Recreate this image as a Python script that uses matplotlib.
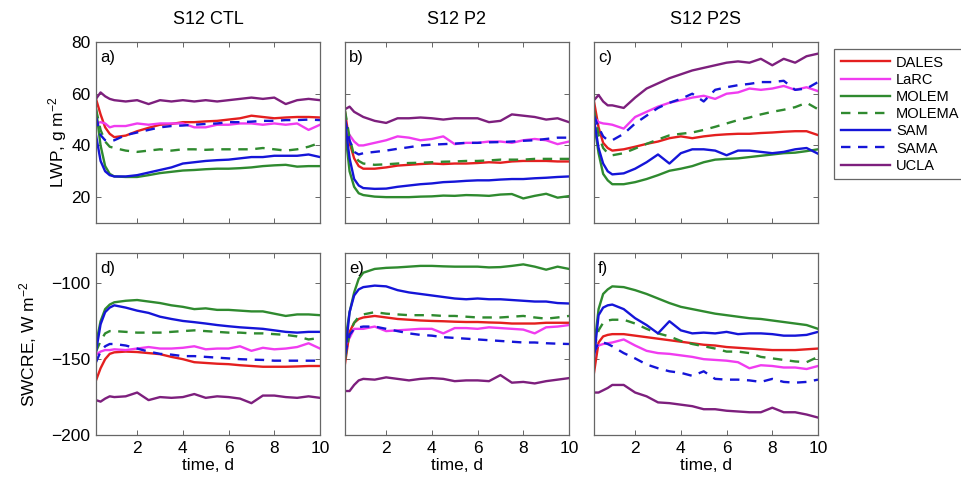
import matplotlib
matplotlib.use("Agg")
import matplotlib.pyplot as plt

plt.rcParams['font.family'] = ['Liberation Sans', 'DejaVu Sans']
plt.rcParams['mathtext.default'] = 'regular'

# time axis (days)
T = [0.2, 0.4, 0.6, 0.8, 1.0, 1.5, 2, 2.5, 3, 3.5, 4, 4.5, 5, 5.5, 6, 6.5, 7, 7.5, 8, 8.5, 9, 9.5, 10]

models = ["DALES", "LaRC", "MOLEM", "MOLEMA", "SAM", "SAMA", "UCLA"]
titles = ["S12 CTL", "S12 P2", "S12 P2S"]
panel_labels = ["a)", "b)", "c)", "d)", "e)", "f)"]

# ---- LWP, S12 CTL ----
lwp_ctl_dales = [58, 52, 47, 44.5, 43.2, 43.8, 45.5, 46.8, 48, 48.3, 49, 49, 49.3, 49.5, 50, 50.5, 51.5, 51, 50.5, 50.8, 51, 51, 50.8]
lwp_ctl_larc = [48.5, 49, 48.5, 47, 47.5, 47.5, 48.5, 48, 48.5, 48.5, 48.5, 47, 47, 48, 48, 48.5, 48.5, 48, 48.5, 48, 48.5, 46, 48]
lwp_ctl_molem = [54, 40, 32, 29, 28, 27.8, 27.8, 28.5, 29.3, 29.8, 30.3, 30.5, 30.8, 31, 31, 31.2, 31.5, 32, 32.3, 32.5, 31.8, 32, 32]
lwp_ctl_molema = [54, 46, 41.5, 39.5, 39, 38, 37.5, 38, 38.5, 38, 38.5, 38.5, 38.3, 38.5, 38.5, 38.5, 38.5, 39, 38.5, 38, 38.5, 39.5, 41]
lwp_ctl_sam = [44, 34, 30, 28.5, 28, 28, 28.5, 29.5, 30.5, 31.5, 33, 33.5, 34, 34.3, 34.5, 35, 35.5, 35.5, 36, 36, 36, 36.5, 35.5]
lwp_ctl_sama = [51, 44, 42, 41.5, 42, 44, 45, 46, 47, 47.5, 47.7, 48, 48.3, 48.5, 49, 49, 49.2, 49.5, 49.5, 49.8, 49.8, 50, 49.8]
lwp_ctl_ucla = [58, 60.5, 59, 58, 57.5, 57, 57.5, 56, 57.5, 57, 57.5, 57, 57.5, 57, 57.5, 58, 58.5, 58, 58.5, 56, 57.5, 58, 57.5]

# ---- LWP, S12 P2 ----
lwp_p2_dales = [53, 41, 35, 32, 31, 31, 31.5, 32.2, 32.5, 32.8, 33, 32.8, 33, 33, 33.2, 33.5, 33.3, 33.8, 34, 34, 34, 33.8, 33.8]
lwp_p2_larc = [46.5, 44, 41.5, 40, 40, 41, 42, 43.5, 43, 42, 42.5, 43.5, 40.5, 41, 41, 41.5, 41.5, 41, 42, 42.5, 42, 40.5, 41.5]
lwp_p2_molem = [46, 30, 24, 21.5, 20.8, 20.2, 20, 20, 20, 20.2, 20.3, 20.6, 20.5, 20.8, 20.7, 20.5, 21, 21.2, 19.5, 20.5, 21.3, 19.8, 20.4]
lwp_p2_molema = [53.5, 43, 36, 34, 33, 32.5, 32.7, 33, 33.2, 33.3, 33.5, 33.7, 33.8, 34, 34, 34.2, 34.5, 34.5, 34.5, 34.8, 34.8, 34.8, 34.8]
lwp_p2_sam = [49, 35, 27, 24.5, 23.5, 23.2, 23.3, 24, 24.5, 25, 25.3, 25.8, 26, 26.3, 26.5, 26.5, 26.8, 27, 27, 27.3, 27.5, 27.8, 28]
lwp_p2_sama = [50, 42, 37.5, 36.5, 37, 37.5, 38, 38.7, 39.3, 40, 40.3, 40.5, 40.7, 41, 41, 41.2, 41.3, 41.5, 41.8, 42, 42.5, 43, 43]
lwp_p2_ucla = [54, 55, 53, 52, 51, 49.5, 48.7, 50.5, 50.5, 50.8, 50.5, 50, 50.5, 50.5, 50.5, 49, 49.5, 52, 51.5, 51, 50, 50.5, 49]

# ---- LWP, S12 P2S ----
lwp_p2s_dales = [57, 47, 41, 39, 38, 38.5, 39.5, 40.6, 41.5, 42.8, 43.5, 42.8, 43.5, 44, 44.3, 44.5, 44.5, 44.8, 45, 45.3, 45.5, 45.5, 44]
lwp_p2s_larc = [51, 49, 48.5, 48.3, 48, 46.5, 51, 53, 55, 56.5, 57.5, 58.5, 59.2, 58, 60, 60.5, 62, 61.5, 62, 63, 61.5, 62.5, 61]
lwp_p2s_molem = [49, 37, 29, 26.5, 25, 25, 25.8, 27, 28.5, 30.2, 31, 32, 33.5, 34.5, 34.8, 35, 35.5, 36, 36.5, 37, 37.2, 37.8, 38.5]
lwp_p2s_molema = [53.5, 44, 39, 37, 36.2, 37, 38.8, 40.6, 42.3, 43.9, 44.5, 45, 46, 47.2, 48.5, 49.8, 50.8, 52, 53, 53.8, 54.8, 56.5, 54]
lwp_p2s_sam = [50, 39, 33, 30, 28.8, 29.2, 31, 33.5, 36.5, 33, 37, 38.5, 38.5, 38, 36.2, 38, 38, 37.5, 37, 37.5, 38.5, 39, 36.8]
lwp_p2s_sama = [51.5, 47, 43.5, 42, 42, 44.5, 48.5, 51.5, 54.5, 56.5, 58, 60, 57, 61.5, 62.5, 63.3, 63.8, 64.5, 64.5, 65, 61.5, 62, 64.5]
lwp_p2s_ucla = [57.5, 59.5, 57, 55.5, 55.5, 54.5, 58.5, 62, 64, 66, 67.5, 69, 70, 71, 72, 72.5, 72, 73.5, 71, 73.5, 72, 74.5, 75.5]

# ---- SWCRE, S12 CTL ----
sw_ctl_dales = [-164, -156, -150, -146.5, -145.5, -145, -145.3, -146, -146.7, -148.5, -150, -152, -152.5, -153, -153.3, -154, -154.5, -155, -155, -155, -154.8, -154.5, -154.5]
sw_ctl_larc = [-147, -145, -144, -144, -143.5, -144, -143, -142, -143, -143, -142.5, -141.5, -143.5, -143, -143, -141.5, -144.5, -142.5, -143.5, -143, -142, -139.5, -143]
sw_ctl_molem = [-140, -125, -117, -114, -112.5, -111.5, -111, -112, -113, -114.5, -115.5, -117, -116.5, -117.5, -117.5, -118, -118.5, -118.5, -120, -121.5, -120.5, -120.5, -121]
sw_ctl_molema = [-145, -138, -133, -131.5, -131.5, -132, -132.5, -132.5, -132.5, -132, -131.5, -131, -131.5, -132, -132.5, -132.5, -133, -133, -133.5, -134, -135, -137, -136]
sw_ctl_sam = [-145, -127, -119, -116, -114.5, -116, -118, -119.5, -122, -123.5, -124.8, -125.6, -126.5, -127.5, -128.3, -129, -129.5, -130, -131, -132, -132.5, -132, -132]
sw_ctl_sama = [-152, -145, -141.5, -140, -140, -141, -143, -145, -146.5, -147, -148, -148, -148.5, -149, -149.5, -150, -150.3, -150.5, -151, -151, -151, -151, -151]
sw_ctl_ucla = [-177, -178, -176, -174.5, -175, -174.5, -172, -177, -175, -175.5, -175, -173, -175.5, -174.5, -175, -176, -179, -174, -174, -175, -175.5, -174.5, -175.5]

# ---- SWCRE, S12 P2 ----
sw_p2_dales = [-153, -132, -126, -123.5, -122.5, -121.5, -122.5, -123.5, -124, -124.5, -124.8, -125, -125.3, -125.5, -125.5, -125.8, -126, -126.5, -126.5, -126.5, -126, -126, -126]
sw_p2_larc = [-141, -136, -130, -130, -130, -128.5, -131.5, -131, -130.5, -130, -130, -133, -129.5, -129.5, -130, -129, -129.5, -130, -130.5, -133, -129, -128.5, -127.5]
sw_p2_molem = [-139, -119, -106, -97, -93, -90.5, -89.8, -89.5, -89, -88.5, -88.5, -88.8, -89, -89, -89, -89.5, -89.3, -88.5, -87.5, -89, -91, -89, -90.5]
sw_p2_molema = [-150, -133, -126, -122, -120.5, -119, -120, -120.5, -121, -121, -121, -121.5, -121.5, -122, -122.5, -122.5, -122.5, -122, -121.5, -122.5, -123.3, -122.5, -121.5]
sw_p2_sam = [-148, -119, -108, -104, -102.5, -101.5, -102, -104.5, -106, -107, -108, -109, -110, -110.5, -110, -110.5, -110.5, -111, -111.5, -112, -112, -113, -113.3]
sw_p2_sama = [-147, -134, -130, -129, -128.5, -128.5, -130, -131.5, -133, -134, -134.5, -135.5, -136, -136.5, -137, -137.5, -138, -138.5, -139, -139, -139.5, -139.8, -140]
sw_p2_ucla = [-171, -171, -167, -164, -163, -163.5, -162, -163, -164, -163, -162.5, -163, -164.5, -164, -164, -164.5, -160.5, -165.5, -165, -166, -164.5, -163.5, -162.5]

# ---- SWCRE, S12 P2S ----
sw_p2s_dales = [-159, -139, -135, -134, -133.5, -133.5, -134.5, -135.5, -136.5, -137.5, -138.5, -139.5, -140.5, -141, -142, -142.5, -143, -143.5, -144, -144, -144, -143.5, -143]
sw_p2s_larc = [-143, -141, -140, -139.5, -139, -137, -141, -144.5, -146, -146.5, -147.5, -148.5, -150, -150.5, -151, -152, -156, -154, -154.5, -155.5, -155.5, -156.5, -154.5]
sw_p2s_molem = [-143, -117, -107, -104, -102, -102.5, -104.5, -107, -110, -113, -115.5, -117, -118.5, -120, -121, -122, -123, -123.5, -124.5, -125.5, -126.5, -127.5, -130]
sw_p2s_molema = [-143, -131, -126, -124.5, -124, -124, -126.5, -130, -133, -135, -138, -140, -141.5, -143, -145, -145, -146, -148.5, -149.5, -150.5, -151.5, -152, -148.5]
sw_p2s_sam = [-149, -121, -116, -114.5, -114, -117, -123, -127.5, -133, -125, -131, -133, -132.5, -133, -132, -133.5, -133, -133, -133.5, -134.5, -134.5, -134, -132]
sw_p2s_sama = [-146, -139, -139, -140, -141.5, -146, -149.5, -153.5, -156, -158, -159, -161, -158, -163, -163.5, -163.5, -164, -165, -163, -165, -165.5, -165, -163.5]
sw_p2s_ucla = [-172, -172, -170.5, -169, -167, -167, -172, -174.5, -178.5, -179, -180, -181, -183, -183, -184, -184.5, -185, -185, -182, -185, -185, -186.5, -188.5]

panels = [
    [lwp_ctl_dales, lwp_ctl_larc, lwp_ctl_molem, lwp_ctl_molema, lwp_ctl_sam, lwp_ctl_sama, lwp_ctl_ucla],
    [lwp_p2_dales, lwp_p2_larc, lwp_p2_molem, lwp_p2_molema, lwp_p2_sam, lwp_p2_sama, lwp_p2_ucla],
    [lwp_p2s_dales, lwp_p2s_larc, lwp_p2s_molem, lwp_p2s_molema, lwp_p2s_sam, lwp_p2s_sama, lwp_p2s_ucla],
    [sw_ctl_dales, sw_ctl_larc, sw_ctl_molem, sw_ctl_molema, sw_ctl_sam, sw_ctl_sama, sw_ctl_ucla],
    [sw_p2_dales, sw_p2_larc, sw_p2_molem, sw_p2_molema, sw_p2_sam, sw_p2_sama, sw_p2_ucla],
    [sw_p2s_dales, sw_p2s_larc, sw_p2s_molem, sw_p2s_molema, sw_p2s_sam, sw_p2s_sama, sw_p2s_ucla],
]

colors = {"DALES": "#e41f1f", "LaRC": "#f03cf0", "MOLEM": "#2f8a2f", "MOLEMA": "#2f8a2f",
          "SAM": "#1515d8", "SAMA": "#1515d8", "UCLA": "#7d1f7d"}
dashed = {"MOLEMA", "SAMA"}

W, H = 962, 487
fig = plt.figure(figsize=(W / 100, H / 100), dpi=100)

lefts = [96, 345, 594]
pw = 224
rows = [(42, 223), (253, 435)]
frame_col = "#666666"

axes = []
for r in range(2):
    top, bot = rows[r]
    for c in range(3):
        ax = fig.add_axes([lefts[c] / W, 1 - bot / H, pw / W, (bot - top) / H])
        axes.append(ax)
        k = r * 3 + c
        handles = []
        for name, vals in zip(models, panels[k]):
            ls = (0, (4, 3.2)) if name in dashed else '-'
            h, = ax.plot(T, vals, color=colors[name], lw=1.7, linestyle=ls, label=name)
            handles.append(h)
        ax.set_xlim(0.2, 10)
        ax.set_xticks([2, 4, 6, 8, 10])
        if r == 0:
            ax.set_ylim(10, 80)
            ax.set_yticks([20, 40, 60, 80])
            ax.set_xticklabels([])
        else:
            ax.set_ylim(-200, -80)
            ax.set_yticks([-200, -150, -100])
            ax.set_xlabel("time, d", fontsize=12.5, labelpad=2)
        if c > 0:
            ax.set_yticklabels([])
        ax.tick_params(direction='in', top=True, right=True, length=3.5, width=0.7,
                       color=frame_col, labelsize=12.5, pad=4)
        for s in ax.spines.values():
            s.set_color(frame_col)
            s.set_linewidth(0.9)
        ax.text(0.018, 0.915, panel_labels[k], transform=ax.transAxes, fontsize=12,
                ha='left', va='center')
        if r == 0:
            fig.text((lefts[c] + pw / 2) / W, 1 - 19 / H, titles[c], fontsize=13,
                     ha='center', va='center')

axes[0].set_ylabel("LWP, g m$^{-2}$", fontsize=12.5)
axes[3].set_ylabel("SWCRE, W m$^{-2}$", fontsize=12.5)
axes[0].yaxis.set_label_coords((69 - 96) / pw, 0.445)
axes[3].yaxis.set_label_coords((39 - 96) / pw, 0.5)

leg = fig.legend(handles=handles, labels=models, loc='upper left',
                 bbox_to_anchor=(834 / W, 1 - 49 / H), borderaxespad=0,
                 fontsize=10.5, handlelength=3.4, handletextpad=0.4,
                 labelspacing=0.22, borderpad=0.45, fancybox=False, framealpha=1)
leg.get_frame().set_edgecolor(frame_col)
leg.get_frame().set_linewidth(0.9)

fig.savefig("out.png", dpi=100)
